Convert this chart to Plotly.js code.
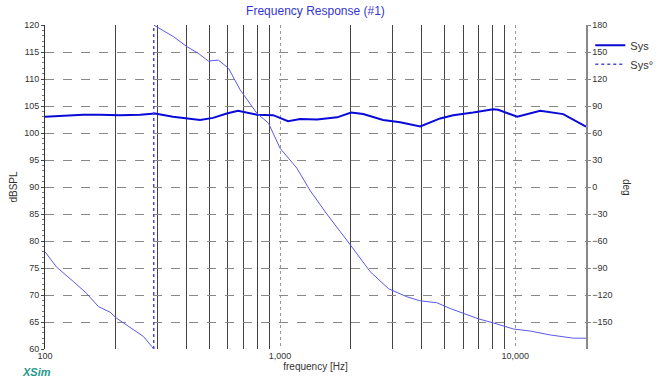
<!DOCTYPE html>
<html>
<head>
<meta charset="utf-8">
<script src="https://cdn.plot.ly/plotly-3.0.1.min.js"></script>
<style>html,body{margin:0;padding:0;background:#fff;}#chart{width:667px;height:385px;}</style>
</head>
<body>
<div id="chart"></div>
<script>
// Magnitude (dBSPL)
var magFreq = [100,116,145,171,208,254,294,350,402,457,519,593,662,796,934,1081,1217,1436,1748,2005,2255,2743,3240,3943,4795,5450,6625,8056,8465,10200,12770,16000,20000];
var magDb   = [103.0,103.2,103.4,103.4,103.3,103.4,103.6,103.0,102.7,102.4,102.8,103.6,104.1,103.4,103.3,102.2,102.6,102.5,102.9,103.8,103.5,102.4,102.0,101.2,102.7,103.3,103.8,104.4,104.3,103.0,104.1,103.5,101.2];

// Phase (deg), low segment before wrap
var phaseFreqA = [100,112,132,150,169,189,202,238,262,284,290];
var phaseDegA  = [-72,-89,-105,-118,-133,-139,-146,-159,-166,-177,-180];
// Phase (deg), after wrap
var phaseFreqB = [290,352,401,449,495,546,603,676,796,892,1000,1178,1342,1580,1985,2415,2891,3460,3943,4640,5290,5930,6980,8070,9840,11580,14090,17700,20000];
var phaseDegB  = [180,167,156,148.5,140,141,132,108,82,71,43,21,-4,-30,-64,-94,-113,-122,-126.5,-128.6,-135,-140,-146.5,-151,-157.8,-160,-164.4,-168,-168];

var leftTicks = [60,65,70,75,80,85,90,95,100,105,110,115,120];
var rightTicks = [-150,-120,-90,-60,-30,0,30,60,90,120,150,180];

var phaseFreq = phaseFreqA.concat([null]).concat(phaseFreqB);
var phaseDeg = phaseDegA.concat([null]).concat(phaseDegB);
var wrapFreq = [phaseFreqA[phaseFreqA.length-1], phaseFreqB[0]];
var wrapDeg = [phaseDegA[phaseDegA.length-1], phaseDegB[0]];

var font = "Liberation Sans, Arial, sans-serif";

var traces = [
  {x: phaseFreq, y: phaseDeg, yaxis: 'y2', mode: 'lines', connectgaps: false,
   line: {color: '#5a5ae6', width: 1}, showlegend: false, hoverinfo: 'skip'},
  {x: wrapFreq, y: wrapDeg, yaxis: 'y2', mode: 'lines', name: 'Sys°', legendrank: 2,
   line: {color: '#4a4ae0', width: 1.5, dash: 'dot'}},
  {x: magFreq, y: magDb, mode: 'lines', name: 'Sys', legendrank: 1,
   line: {color: '#0a0ad8', width: 2}}
];

var layout = {
  width: 667, height: 385,
  margin: {l: 45, r: 81, t: 25, b: 36, pad: 0, autoexpand: false},
  paper_bgcolor: '#ffffff', plot_bgcolor: '#ffffff',
  font: {family: font, size: 9, color: '#333'},
  title: {text: 'Frequency Response (#1)', font: {family: font, size: 12, color: '#3535d0'},
          x: 0.473, xanchor: 'center', y: 0.972, yanchor: 'middle'},
  showlegend: true,
  legend: {xref: 'container', yref: 'container', x: 0.885, y: 0.92, xanchor: 'left', yanchor: 'top',
           bgcolor: 'rgba(0,0,0,0)', font: {family: font, size: 11, color: '#333'},
           itemwidth: 30, tracegroupgap: 0},
  xaxis: {
    type: 'log', range: [2, Math.log10(20000)], dtick: 1, tickformat: ',d',
    ticks: '', tickfont: {size: 9, color: '#333'},
    showgrid: true, gridcolor: '#999', griddash: 'dot', gridwidth: 1,
    minor: {dtick: 'D1', showgrid: true, gridcolor: '#444', griddash: 'solid', gridwidth: 1, ticks: ''},
    showline: false, zeroline: false, automargin: false,
    title: {text: 'frequency [Hz]', font: {family: font, size: 10, color: '#333'}, standoff: 2}
  },
  yaxis: {
    range: [60, 120], tickvals: leftTicks, ticks: 'outside', ticklen: 3, tickcolor: '#444',
    tickfont: {size: 9, color: '#333'},
    minor: {dtick: 1, ticks: 'outside', ticklen: 2, tickcolor: '#777', showgrid: false},
    showgrid: true, gridcolor: '#888', griddash: 'dash', gridwidth: 1,
    showline: true, linecolor: '#333', linewidth: 1, zeroline: false, automargin: false,
    title: {text: 'dBSPL', font: {family: font, size: 10, color: '#333'}, standoff: 4}
  },
  yaxis2: {
    range: [-180, 180], overlaying: 'y', side: 'right', tickvals: rightTicks,
    ticks: 'outside', ticklen: 3, tickcolor: '#888', tickfont: {size: 9, color: '#333'},
    showgrid: false, showline: true, linecolor: '#888', linewidth: 1.5, zeroline: false, automargin: false
  },
  annotations: [
    {text: 'deg', xref: 'paper', yref: 'paper', x: 1.076, y: 0.5, showarrow: false,
     xanchor: 'center', yanchor: 'middle',
     textangle: 90, font: {family: font, size: 10, color: '#333'}},
    {text: '<b><i>XSim</i></b>', xref: 'paper', yref: 'paper', x: -0.047, y: -0.071,
     xanchor: 'left', yanchor: 'middle', showarrow: false,
     font: {family: font, size: 11, color: '#1f9a8a'}}
  ]
};

Plotly.newPlot('chart', traces, layout, {displayModeBar: false, staticPlot: true});
</script>
</body>
</html>
